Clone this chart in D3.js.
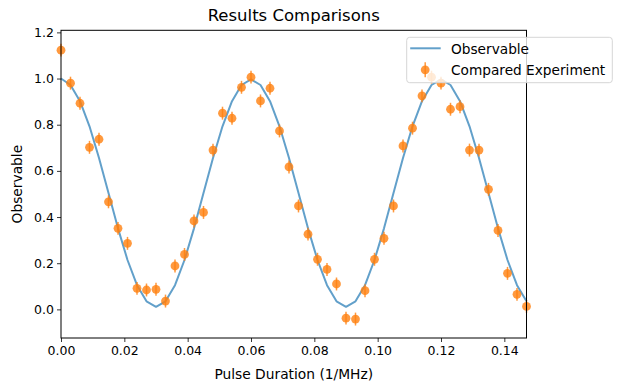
<!DOCTYPE html>
<style>
  body {
    margin: 0;
    background: white;
    font-family: "DejaVu Sans", sans-serif;
  }
</style>
<div id="container"></div>

<script src="https://d3js.org/d3.v7.min.js"></script>
<script>
  // DATA
  const durations = [
    0.0, 0.003, 0.006, 0.009, 0.012, 0.015, 0.018, 0.021, 0.024, 0.027,
    0.03, 0.033, 0.036, 0.039, 0.042, 0.045, 0.048, 0.051, 0.054, 0.057,
    0.06, 0.063, 0.066, 0.069, 0.072, 0.075, 0.078, 0.081, 0.084, 0.087,
    0.09, 0.093, 0.096, 0.099, 0.102, 0.105, 0.108, 0.111, 0.114, 0.117,
    0.12, 0.123, 0.126, 0.129, 0.132, 0.135, 0.138, 0.141, 0.144, 0.147,
  ];
  const observable = [
    1.0, 0.972, 0.902, 0.793, 0.656, 0.504, 0.351, 0.214, 0.105, 0.035,
    0.011, 0.035, 0.105, 0.214, 0.351, 0.504, 0.656, 0.793, 0.902, 0.972,
    0.996, 0.972, 0.902, 0.793, 0.656, 0.504, 0.351, 0.214, 0.105, 0.035,
    0.011, 0.035, 0.105, 0.214, 0.351, 0.504, 0.656, 0.793, 0.902, 0.972,
    0.996, 0.972, 0.902, 0.793, 0.656, 0.504, 0.351, 0.214, 0.105, 0.035,
  ];
  const experiment = [
    1.123, 0.98, 0.893, 0.702, 0.737, 0.466, 0.351, 0.286, 0.091, 0.084,
    0.087, 0.036, 0.188, 0.238, 0.383, 0.42, 0.69, 0.85, 0.828, 0.962,
    1.006, 0.903, 0.958, 0.773, 0.617, 0.448, 0.326, 0.217, 0.173, 0.11,
    -0.038, -0.042, 0.081, 0.217, 0.308, 0.448, 0.708, 0.785, 0.925, 1.006,
    0.98, 0.867, 0.878, 0.69, 0.69, 0.52, 0.342, 0.156, 0.065, 0.013,
  ];
  const errors = [
    0.028, 0.028, 0.028, 0.028, 0.028, 0.028, 0.028, 0.028, 0.028, 0.028,
    0.028, 0.028, 0.028, 0.028, 0.028, 0.028, 0.028, 0.028, 0.028, 0.028,
    0.028, 0.028, 0.028, 0.028, 0.028, 0.028, 0.028, 0.028, 0.028, 0.028,
    0.028, 0.028, 0.028, 0.028, 0.028, 0.028, 0.028, 0.028, 0.028, 0.028,
    0.028, 0.028, 0.028, 0.028, 0.028, 0.028, 0.028, 0.028, 0.028, 0.028,
  ];
  const xTicks = [0.0, 0.02, 0.04, 0.06, 0.08, 0.1, 0.12, 0.14];
  const yTicks = [0.0, 0.2, 0.4, 0.6, 0.8, 1.0, 1.2];
  const seriesNames = ["Observable", "Compared Experiment"];

  const blue = "#1f77b4";
  const orange = "#ff7f0e";

  // CONSTRUCT GRAPH CONTAINER
  const W = 622;
  const H = 391;
  const margin = { top: 30.3, right: 95.5, bottom: 53, left: 61 };
  const width = W - margin.left - margin.right;
  const height = H - margin.top - margin.bottom;

  const svg = d3
    .select("#container")
    .append("svg")
    .attr("width", W)
    .attr("height", H)
    .style("display", "block");

  const g = svg
    .append("g")
    .attr("transform", "translate(" + margin.left + "," + margin.top + ")");

  // SCALES
  const xScale = d3.scaleLinear().domain([0, 0.147]).range([0, width]);
  const yScale = d3.scaleLinear().domain([-0.124, 1.209]).range([height, 0]);

  // AXES
  const xAxis = g
    .append("g")
    .attr("transform", "translate(0," + height + ")")
    .call(
      d3
        .axisBottom(xScale)
        .tickValues(xTicks)
        .tickFormat(d3.format(".2f"))
        .tickSizeOuter(0)
        .tickSize(4)
        .tickPadding(4)
    );

  const yAxis = g
    .append("g")
    .call(
      d3
        .axisLeft(yScale)
        .tickValues(yTicks)
        .tickFormat(d3.format(".1f"))
        .tickSizeOuter(0)
        .tickSize(4)
        .tickPadding(3)
    );

  [xAxis, yAxis].forEach((a) => {
    a.select(".domain").remove();
    a.selectAll("line").attr("stroke", "black").attr("stroke-width", 0.8);
    a.selectAll("text")
      .attr("fill", "black")
      .style("font-family", "DejaVu Sans")
      .style("font-size", "12.5px");
  });

  // CONSTRUCT LINE GRAPH
  const line = d3
    .line()
    .x((d, i) => xScale(durations[i]))
    .y((d) => yScale(d));

  g.append("path")
    .attr("fill", "none")
    .attr("stroke", blue)
    .attr("stroke-opacity", 0.7)
    .attr("stroke-width", 2)
    .attr("stroke-linejoin", "round")
    .attr("d", line(observable));

  // ERROR BARS + POINTS
  const pts = g
    .selectAll(".pt")
    .data(experiment)
    .enter()
    .append("g")
    .attr("class", "pt");

  pts
    .append("line")
    .attr("x1", (d, i) => xScale(durations[i]))
    .attr("x2", (d, i) => xScale(durations[i]))
    .attr("y1", (d, i) => yScale(d - errors[i]))
    .attr("y2", (d, i) => yScale(d + errors[i]))
    .attr("stroke", orange)
    .attr("stroke-opacity", 0.8)
    .attr("stroke-width", 1.5);

  pts
    .append("circle")
    .attr("cx", (d, i) => xScale(durations[i]))
    .attr("cy", (d) => yScale(d))
    .attr("r", 4.4)
    .attr("fill", orange)
    .attr("fill-opacity", 0.8);

  // FRAME
  g.append("rect")
    .attr("width", width)
    .attr("height", height)
    .attr("fill", "none")
    .attr("stroke", "black")
    .attr("stroke-width", 1);

  // TITLES
  svg
    .append("text")
    .attr("x", margin.left + width / 2)
    .attr("y", 21)
    .attr("text-anchor", "middle")
    .style("font-size", "16.5px")
    .text("Results Comparisons");

  svg
    .append("text")
    .attr("x", margin.left + width / 2)
    .attr("y", 379)
    .attr("text-anchor", "middle")
    .style("font-size", "13.8px")
    .text("Pulse Duration (1/MHz)");

  svg
    .append("text")
    .attr("transform", "translate(21.5," + (margin.top + height / 2) + ") rotate(-90)")
    .attr("text-anchor", "middle")
    .style("font-size", "13.8px")
    .text("Observable");

  // CONSTRUCT LEGEND
  const legend = svg.append("g").attr("transform", "translate(406.7,37.3)");

  legend
    .append("rect")
    .attr("width", 205.6)
    .attr("height", 45.4)
    .attr("rx", 3)
    .attr("fill", "white")
    .attr("fill-opacity", 0.8)
    .attr("stroke", "#d6d6d6")
    .attr("stroke-width", 1);

  legend
    .append("line")
    .attr("x1", 3.5)
    .attr("x2", 34)
    .attr("y1", 11)
    .attr("y2", 11)
    .attr("stroke", blue)
    .attr("stroke-opacity", 0.7)
    .attr("stroke-width", 2);

  legend
    .append("line")
    .attr("x1", 18.5)
    .attr("x2", 18.5)
    .attr("y1", 25)
    .attr("y2", 40)
    .attr("stroke", orange)
    .attr("stroke-opacity", 0.8)
    .attr("stroke-width", 1.5);

  legend
    .append("circle")
    .attr("cx", 18.5)
    .attr("cy", 32.5)
    .attr("r", 4.4)
    .attr("fill", orange)
    .attr("fill-opacity", 0.8);

  legend
    .selectAll(".label")
    .data(seriesNames)
    .enter()
    .append("text")
    .attr("class", "label")
    .attr("x", 44.3)
    .attr("y", (d, i) => 17 + i * 21)
    .style("font-size", "13.7px")
    .text((d) => d);
</script>
